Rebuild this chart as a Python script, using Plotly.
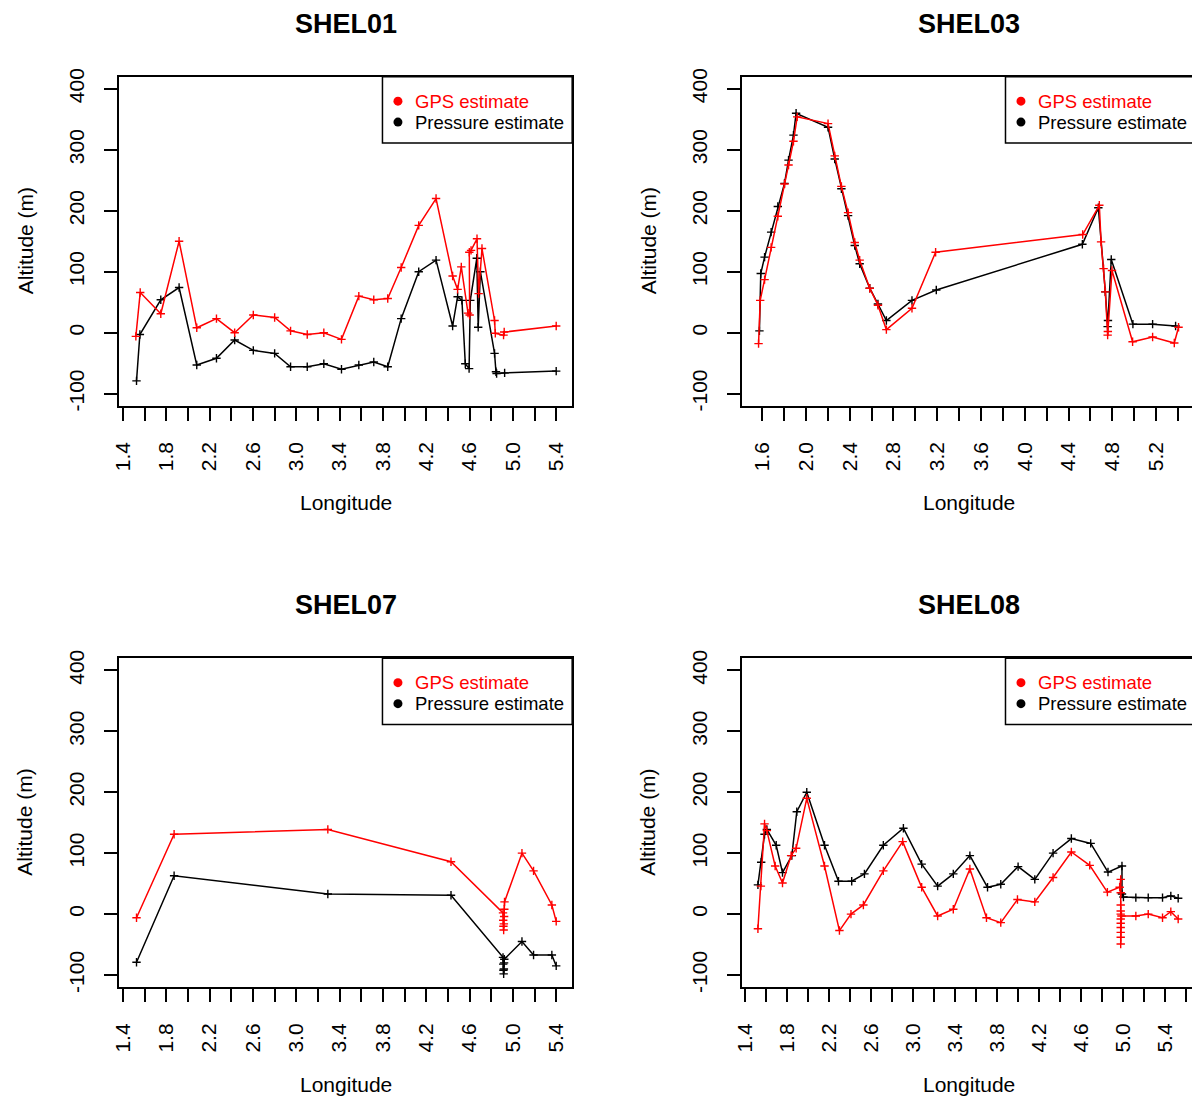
import plotly.graph_objects as go

# ---------------------------------------------------------------
# Altitude along track: GPS estimate vs pressure estimate, 4 birds
# ---------------------------------------------------------------

# SHEL01
lon_gps_01 = [1.520, 1.560, 1.750, 1.919, 2.082, 2.264, 2.432, 2.604, 2.801, 2.948,
              3.102, 3.255, 3.418, 3.578, 3.716, 3.845, 3.969, 4.131, 4.291, 4.444,
              4.490, 4.524, 4.586, 4.601, 4.598, 4.614, 4.669, 4.684, 4.715, 4.831,
              4.838, 4.914, 4.920, 5.400]
alt_gps_01 = [-6, 66, 31, 150, 8, 23, 0, 29, 25, 3,
              -3, 0, -11, 60, 54, 56, 107, 176, 220, 93,
              71, 108, 32, 29, 132, 135, 154, 64, 138, 20,
              -1, -4, 1, 11]
lon_prs_01 = [1.526, 1.557, 1.750, 1.919, 2.082, 2.264, 2.432, 2.604, 2.801, 2.948,
              3.102, 3.255, 3.418, 3.578, 3.716, 3.845, 3.969, 4.131, 4.291, 4.444,
              4.490, 4.530, 4.561, 4.596, 4.607, 4.667, 4.680, 4.700, 4.831, 4.844,
              4.850, 4.924, 5.400]
alt_prs_01 = [-79, -3, 54, 74, -53, -42, -12, -29, -34, -56,
              -56, -51, -60, -53, -48, -56, 23, 100, 119, 11,
              59, 53, -51, -59, 53, 122, 9, 100, -34, -64,
              -67, -66, -63]

# SHEL03
lon_gps_03 = [1.567, 1.582, 1.622, 1.682, 1.743, 1.804, 1.841, 1.886, 1.920, 2.202,
              2.263, 2.324, 2.385, 2.446, 2.491, 2.583, 2.658, 2.735, 2.969, 3.185,
              4.529, 4.681, 4.697, 4.720, 4.736, 4.757, 4.759, 4.797, 4.985, 5.168,
              5.366, 5.405]
alt_gps_03 = [-18, 53, 87, 140, 191, 244, 275, 314, 354, 343,
              290, 240, 197, 148, 119, 73, 45, 5, 40, 132,
              161, 209, 149, 105, 67, -4, 2, 102, -15, -7,
              -17, 9]
lon_prs_03 = [1.575, 1.587, 1.622, 1.682, 1.743, 1.804, 1.841, 1.886, 1.910, 2.202,
              2.263, 2.324, 2.385, 2.446, 2.491, 2.583, 2.658, 2.735, 2.969, 3.191,
              4.526, 4.672, 4.736, 4.757, 4.760, 4.790, 4.988, 5.168, 5.378]
alt_prs_03 = [3, 97, 124, 165, 207, 245, 283, 324, 360, 337,
              285, 236, 192, 143, 113, 73, 47, 20, 53, 70,
              145, 205, 67, 10, 20, 120, 14, 14, 11]

# SHEL07
lon_gps_07 = [1.526, 1.873, 3.292, 4.429, 4.909, 4.911, 4.913, 4.915, 4.917, 4.919,
              4.921, 4.923, 5.084, 5.191, 5.360, 5.400]
alt_gps_07 = [-6, 131, 139, 86, 2, -10, -20, -26, -16, -4,
              8, 20, 100, 71, 15, -12]
lon_prs_07 = [1.526, 1.873, 3.292, 4.429, 4.909, 4.911, 4.913, 4.915, 4.917, 4.919,
              4.921, 5.084, 5.191, 5.360, 5.400]
alt_prs_07 = [-79, 63, 33, 31, -71, -82, -92, -98, -90, -80,
              -74, -45, -67, -67, -85]

# SHEL08
lon_gps_08 = [1.524, 1.552, 1.587, 1.609, 1.688, 1.758, 1.840, 1.888, 1.989, 2.158,
              2.300, 2.410, 2.528, 2.718, 2.902, 3.083, 3.235, 3.384, 3.542, 3.700,
              3.836, 3.995, 4.160, 4.334, 4.508, 4.683, 4.851, 4.968, 4.978, 4.978,
              4.978, 4.978, 4.978, 4.978, 4.978, 4.978, 4.978, 4.978, 4.978, 4.985,
              5.122, 5.240, 5.376, 5.455, 5.525]
alt_gps_08 = [-24, 46, 148, 137, 79, 51, 96, 108, 190, 79,
              -27, 0, 15, 71, 119, 44, -3, 8, 74, -6,
              -14, 24, 20, 60, 102, 80, 36, 44, 57, 35,
              15, 0, -15, -30, -49, -38, -22, -8, 5, -3,
              -3, 0, -6, 4, -8]
lon_prs_08 = [1.524, 1.555, 1.587, 1.609, 1.698, 1.758, 1.847, 1.894, 1.989, 2.158,
              2.291, 2.417, 2.538, 2.718, 2.909, 3.083, 3.235, 3.384, 3.542, 3.710,
              3.836, 4.001, 4.160, 4.334, 4.508, 4.692, 4.857, 4.990, 4.990, 5.004,
              5.122, 5.240, 5.376, 5.455, 5.525]
alt_prs_08 = [48, 85, 131, 139, 113, 68, 96, 168, 200, 113,
              54, 54, 66, 113, 141, 82, 46, 66, 96, 44,
              49, 78, 57, 100, 124, 116, 69, 79, 33, 28,
              27, 27, 27, 30, 26]

# Axis ticks (every 0.2, labelled every 0.4)
x_ticks_a = [1.4, 1.6, 1.8, 2.0, 2.2, 2.4, 2.6, 2.8, 3.0, 3.2, 3.4, 3.6, 3.8,
             4.0, 4.2, 4.4, 4.6, 4.8, 5.0, 5.2, 5.4]
x_labels_a = ["1.4", "", "1.8", "", "2.2", "", "2.6", "", "3.0", "", "3.4", "",
              "3.8", "", "4.2", "", "4.6", "", "5.0", "", "5.4"]
x_ticks_b = [1.6, 1.8, 2.0, 2.2, 2.4, 2.6, 2.8, 3.0, 3.2, 3.4, 3.6, 3.8, 4.0,
             4.2, 4.4, 4.6, 4.8, 5.0, 5.2, 5.4]
x_labels_b = ["1.6", "", "2.0", "", "2.4", "", "2.8", "", "3.2", "", "3.6", "",
              "4.0", "", "4.4", "", "4.8", "", "5.2", ""]
x_ticks_c = x_ticks_a + [5.6]
x_labels_c = x_labels_a + [""]
y_ticks = [-100, 0, 100, 200, 300, 400]
y_labels = ["-100", "0", "100", "200", "300", "400"]

titles = ["SHEL01", "SHEL03", "SHEL07", "SHEL08"]
series_names = ["GPS estimate", "Pressure estimate"]

# ---------------------------------------------------------------
# Positions below are screen pixels.  The page body keeps its 8 px
# margin and the page is displayed slightly scaled (SX, SY), so each
# screen position is mapped back to figure pixels before use.
W, H = 1192, 1106
MARGIN = 8
SX, SY = 0.994, 0.988
FONT = "Liberation Sans, Arial, Helvetica, sans-serif"
RED = "#FF0000"
BLACK = "#000000"


def px(x):
    return (x / SX - MARGIN) / W


def py(y):
    return 1 - (y / SY - MARGIN) / H


SCREEN_RIGHT = (W + MARGIN) * SX

# plot boxes in screen pixels: (left, right, top, bottom)
boxes = [
    (118, 572, 76.6, 406.0),
    (742, SCREEN_RIGHT, 76.6, 406.0),
    (118, 572, 658.5, 987.8),
    (742, SCREEN_RIGHT, 658.5, 987.8),
]
# longitude scale of each box: (reference tick, its screen pixel, pixels per degree)
x_scales = [(1.4, 122.0, 108.5), (1.6, 762.3, 109.6), (1.4, 122.0, 108.5), (1.4, 745.0, 105.2)]
tick_sets = [(x_ticks_a, x_labels_a), (x_ticks_b, x_labels_b),
             (x_ticks_a, x_labels_a), (x_ticks_c, x_labels_c)]

data = [
    (lon_gps_01, alt_gps_01, lon_prs_01, alt_prs_01),
    (lon_gps_03, alt_gps_03, lon_prs_03, alt_prs_03),
    (lon_gps_07, alt_gps_07, lon_prs_07, alt_prs_07),
    (lon_gps_08, alt_gps_08, lon_prs_08, alt_prs_08),
]

fig = go.Figure()
layout = dict(
    width=W, height=H,
    margin=dict(l=0, r=0, t=0, b=0),
    paper_bgcolor="white", plot_bgcolor="white",
    showlegend=False,
    font=dict(family=FONT, color=BLACK, size=21),
)
annotations = []
shapes = []

for i, (box, (v0, p0, s), (tv, tt), (lg, ag, lp, ap)) in enumerate(zip(boxes, x_scales, tick_sets, data)):
    k = "" if i == 0 else str(i + 1)
    left, right, top, bottom = box
    xr = [v0 + (left - p0) / s, v0 + (right - p0) / s]
    full_right = right if i % 2 == 0 else left + 454
    cx = (left + full_right) / 2
    cy = (top + bottom) / 2

    layout["xaxis" + k] = dict(
        domain=[px(left), min(px(right), 1.0)], range=xr, anchor="y" + k,
        tickvals=tv, ticktext=tt, tickangle=-90,
        ticks="outside", ticklen=13, tickwidth=1.5, tickcolor=BLACK,
        ticklabelstandoff=13,
        showline=True, linecolor=BLACK, linewidth=1.5, mirror=True,
        showgrid=False, zeroline=False, tickfont=dict(size=21),
    )
    layout["yaxis" + k] = dict(
        domain=[py(bottom), py(top)], range=[-120, 420], anchor="x" + k,
        tickvals=y_ticks, ticktext=y_labels, tickangle=-90,
        ticks="outside", ticklen=13, tickwidth=1.5, tickcolor=BLACK,
        ticklabelstandoff=12,
        showline=True, linecolor=BLACK, linewidth=1.5, mirror=(i % 2 == 0),
        showgrid=False, zeroline=False, tickfont=dict(size=21),
    )

    # pressure estimate first, GPS estimate drawn on top
    for xs, ys, col, name in ((lp, ap, BLACK, series_names[1]), (lg, ag, RED, series_names[0])):
        fig.add_trace(go.Scatter(
            x=xs, y=ys, mode="lines+markers", name=name,
            line=dict(color=col, width=1.5),
            marker=dict(symbol="cross-thin", size=6, color=col, line=dict(width=1.4, color=col)),
            xaxis="x" + k, yaxis="y" + k, hoverinfo="skip",
        ))

    # panel title and axis titles
    annotations.append(dict(text="<b>" + titles[i] + "</b>", x=px(cx), y=py(top - 53),
                            xref="paper", yref="paper", showarrow=False,
                            xanchor="center", yanchor="middle", font=dict(size=27)))
    annotations.append(dict(text="Longitude", x=px(cx), y=py(bottom + 97),
                            xref="paper", yref="paper", showarrow=False,
                            xanchor="center", yanchor="middle", font=dict(size=21)))
    annotations.append(dict(text="Altitude (m)", x=px(left - 94), y=py(cy),
                            xref="paper", yref="paper", showarrow=False, textangle=-90,
                            xanchor="center", yanchor="middle", font=dict(size=21)))

    # legend box
    lx0 = full_right - 190
    lx1 = full_right
    shapes.append(dict(type="rect", xref="paper", yref="paper",
                       x0=px(lx0), x1=px(lx1), y0=py(top + 66.5), y1=py(top),
                       line=dict(color=BLACK, width=1.5), fillcolor="white", layer="above"))
    for j, (col, name) in enumerate(((RED, series_names[0]), (BLACK, series_names[1]))):
        yc = top + 24.5 + 21 * j
        shapes.append(dict(type="circle", xref="paper", yref="paper",
                           x0=px(lx0 + 15.5 - 4.5), x1=px(lx0 + 15.5 + 4.5),
                           y0=py(yc + 4.5), y1=py(yc - 4.5),
                           line=dict(color=col, width=0), fillcolor=col, layer="above"))
        annotations.append(dict(text=name, x=px(lx0 + 31), y=py(yc),
                                xref="paper", yref="paper", showarrow=False,
                                xanchor="left", yanchor="middle",
                                font=dict(size=18.5, color=col)))

layout["annotations"] = annotations
layout["shapes"] = shapes
fig.update_layout(**layout)

fig.write_html("out.html", config={"displayModeBar": False})
